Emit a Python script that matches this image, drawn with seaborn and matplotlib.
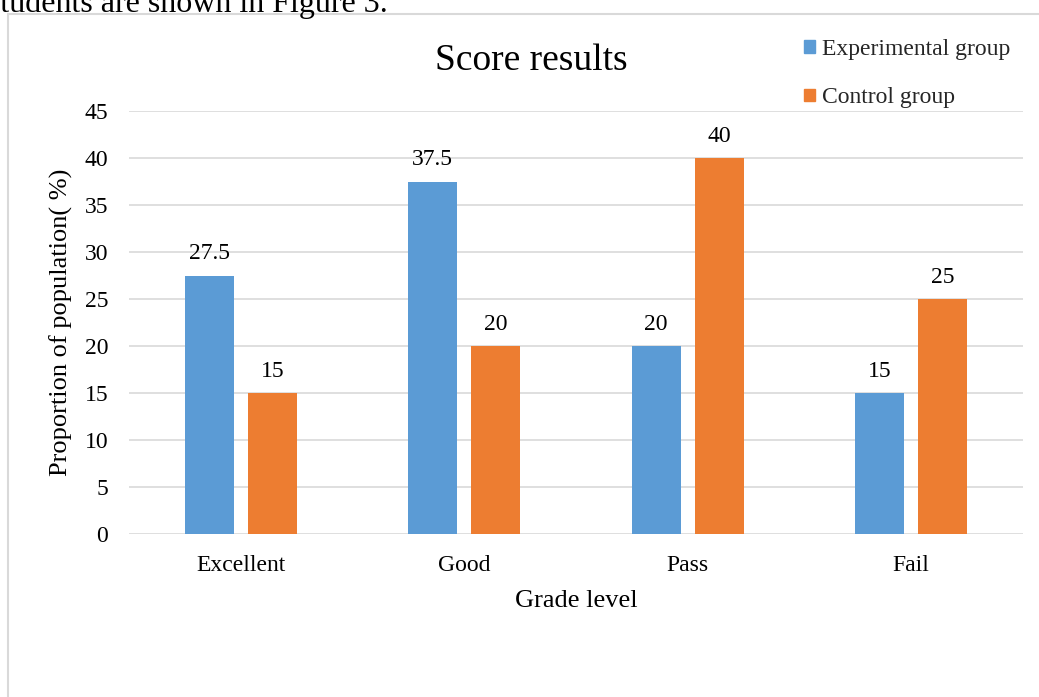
import matplotlib
matplotlib.use("Agg")
import matplotlib.pyplot as plt
import seaborn as sns
import pandas as pd
from matplotlib.lines import Line2D

grades = ["Excellent", "Good", "Pass", "Fail"]
groups = ["Experimental group", "Control group"]
experimental = [27.5, 37.5, 20, 15]
control = [15, 20, 40, 25]
yticks = [0, 5, 10, 15, 20, 25, 30, 35, 40, 45]
colors = ["#5B9BD5", "#ED7D31"]

df = pd.DataFrame({
    "Grade level": grades * 2,
    "Group": [groups[0]] * 4 + [groups[1]] * 4,
    "Value": experimental + control,
})

sns.set_theme(style="white")
plt.rcParams["font.family"] = ["Liberation Serif", "DejaVu Serif"]

W, H = 1039, 697
fig = plt.figure(figsize=(W / 100, H / 100), dpi=100)
ax = fig.add_axes([129 / W, 1 - 534 / H, (1023 - 129) / W, (534 - 111) / H])

sns.barplot(data=df, x="Grade level", y="Value", hue="Group", order=grades,
            hue_order=groups, palette=colors, width=0.564, gap=0.22,
            linewidth=0, saturation=1, ax=ax, legend=False)

for cont in ax.containers:
    ax.bar_label(cont, fmt="%g", padding=8, fontsize=17, color="#000000")

ax.set_ylim(0, 45)
ax.set_xlim(-0.5, 3.5)
ax.set_yticks(yticks)
ax.yaxis.grid(True, color="#D9D9D9", linewidth=1.2)
ax.set_axisbelow(True)
for s in ax.spines.values():
    s.set_visible(False)
ax.tick_params(axis="y", length=0, pad=15, labelsize=17, labelcolor="#000000")
ax.tick_params(axis="x", length=0, pad=15, labelsize=17, labelcolor="#000000")

ax.set_xlabel("Grade level", fontsize=19, color="#000000")
ax.xaxis.set_label_coords(0.5, (534 - 590) / 423)
ax.set_ylabel("Proportion of population( %)", fontsize=19, color="#000000")
ax.yaxis.set_label_coords((73 - 129) / 894, 0.5)

fig.text(531 / W, 1 - 61 / H, "Score results", fontsize=27, ha="center",
         va="center", color="#000000")

handles = [plt.Rectangle((0, 0), 1, 1, color=c) for c in colors]
fig.legend(handles, groups, loc="upper left",
           bbox_to_anchor=(804 / W, 1 - 39 / H), frameon=False, fontsize=17,
           handlelength=0.45, handleheight=0.45, handletextpad=0.3,
           labelspacing=1.16, borderaxespad=0, borderpad=0)

# chart frame (partially visible)
fig.add_artist(Line2D([8 / W, 1.0], [1 - 14 / H, 1 - 14 / H], transform=fig.transFigure,
                      color="#D9D9D9", linewidth=1.5))
fig.add_artist(Line2D([8 / W, 8 / W], [0, 1 - 14 / H], transform=fig.transFigure,
                      color="#D9D9D9", linewidth=1.5))

fig.text(388 / W, 1 - 12 / H, "students are shown in Figure 3.", fontsize=23,
         ha="right", va="baseline", color="#000000")

fig.savefig("out.png", dpi=100)
